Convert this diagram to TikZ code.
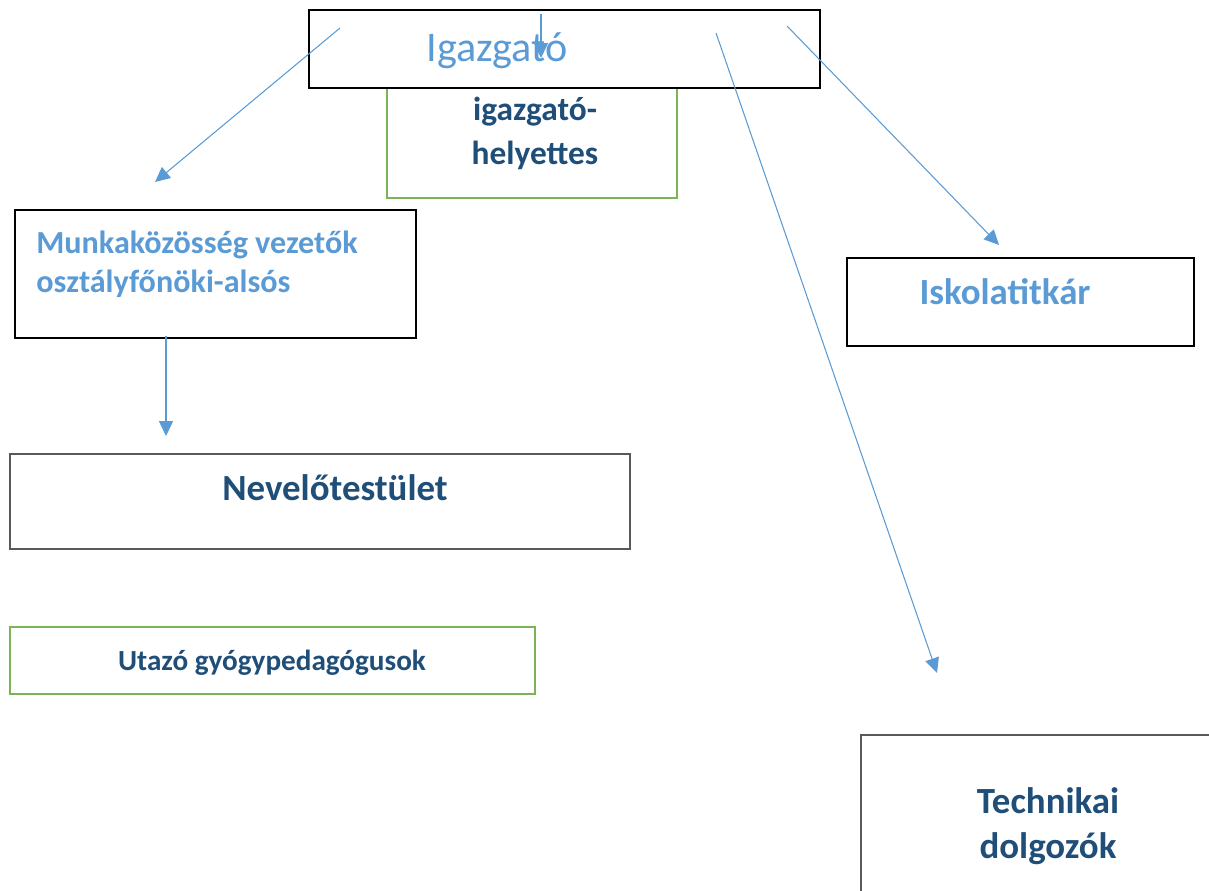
\documentclass[tikz,border=0pt]{standalone}
\usepackage{fontspec}
\setmainfont{Carlito}
\usetikzlibrary{arrows.meta}
\definecolor{orgblue}{HTML}{5B9BD5}
\definecolor{orgdark}{HTML}{1F4E79}
\definecolor{orggreen}{HTML}{7CB454}

\begin{document}
\begin{tikzpicture}[x=0.02cm, y=-0.02cm,
    box/.style={draw=black, line width=0.8pt, fill=white, rectangle, inner sep=0pt},
    greenbox/.style={box, draw=orggreen, line width=1.2pt},
    graybox/.style={box, draw=black!65, line width=1pt},
    lighttext/.style={text=orgblue, inner sep=0pt},
    darktext/.style={text=orgdark, inner sep=0pt, font=\bfseries},
    link/.style={draw=orgblue, line width=0.6pt, -{Triangle[length=8.5pt, width=8pt]}}]
    \useasboundingbox[fill=white] (0, 0) rectangle (1209, 890);
    \clip (0, 0) rectangle (1209, 890);

    % boxes
    \node[greenbox, minimum width=5.8cm, minimum height=2.56cm] (helyettes) at (532, 134) {};
    \node[box, minimum width=10.22cm, minimum height=1.56cm] (igazgato) at (564.5, 49) {};
    \node[box, minimum width=8.02cm, minimum height=2.56cm] (munka) at (215.5, 274) {};
    \node[box, minimum width=6.94cm, minimum height=1.76cm] (titkar) at (1020.5, 302) {};
    \node[graybox, minimum width=12.4cm, minimum height=1.9cm] (nevelo) at (320, 501.5) {};
    \node[greenbox, minimum width=10.5cm, minimum height=1.34cm] (utazo) at (272.5, 660.5) {};
    \node[graybox, minimum width=8cm, minimum height=4cm] (technikai) at (1061, 835) {};

    % texts
    \node[lighttext, font=\fontsize{24}{29}\selectfont] (igazgatoText) at (497, 51) {Igazgató};
    \node[darktext, align=center, font=\bfseries\fontsize{19}{25}\selectfont] (helyettesText) at (535, 133) {igazgató-\\helyettes};
    \node[lighttext, font=\bfseries\fontsize{18.3}{22}\selectfont, align=left, anchor=west] (munkaText) at (36, 264) {Munkaközösség vezetők\\osztályfőnöki-alsós};
    \node[lighttext, font=\bfseries\fontsize{21}{25}\selectfont] (titkarText) at (1005, 292) {Iskolatitkár};
    \node[darktext, font=\bfseries\fontsize{21}{25}\selectfont] (neveloText) at (335, 488) {Nevelőtestület};
    \node[darktext, font=\bfseries\fontsize{16.6}{20}\selectfont] (utazoText) at (272, 663) {Utazó gyógypedagógusok};
    \node[darktext, align=center, font=\bfseries\fontsize{21}{25.5}\selectfont] (technikaiText) at (1048, 826) {Technikai\\dolgozók};

    % arrow ends
    \coordinate (fromLeft)   at (340, 28);
    \coordinate (toLeft)     at (155, 182);
    \coordinate (fromTop)    at (541, 14);
    \coordinate (toTop)      at (541, 58);
    \coordinate (fromLong)   at (716, 33);
    \coordinate (toLong)     at (937, 673);
    \coordinate (fromRight)  at (787, 26);
    \coordinate (toRight)    at (999, 245);
    \coordinate (fromMunka)  at (166, 336);
    \coordinate (toMunka)    at (166, 436);

    \draw[link] (fromLeft) -- (toLeft);
    \draw[link] (fromTop) -- (toTop);
    \draw[link] (fromLong) -- (toLong);
    \draw[link] (fromRight) -- (toRight);
    \draw[link] (fromMunka) -- (toMunka);
\end{tikzpicture}
\end{document}
